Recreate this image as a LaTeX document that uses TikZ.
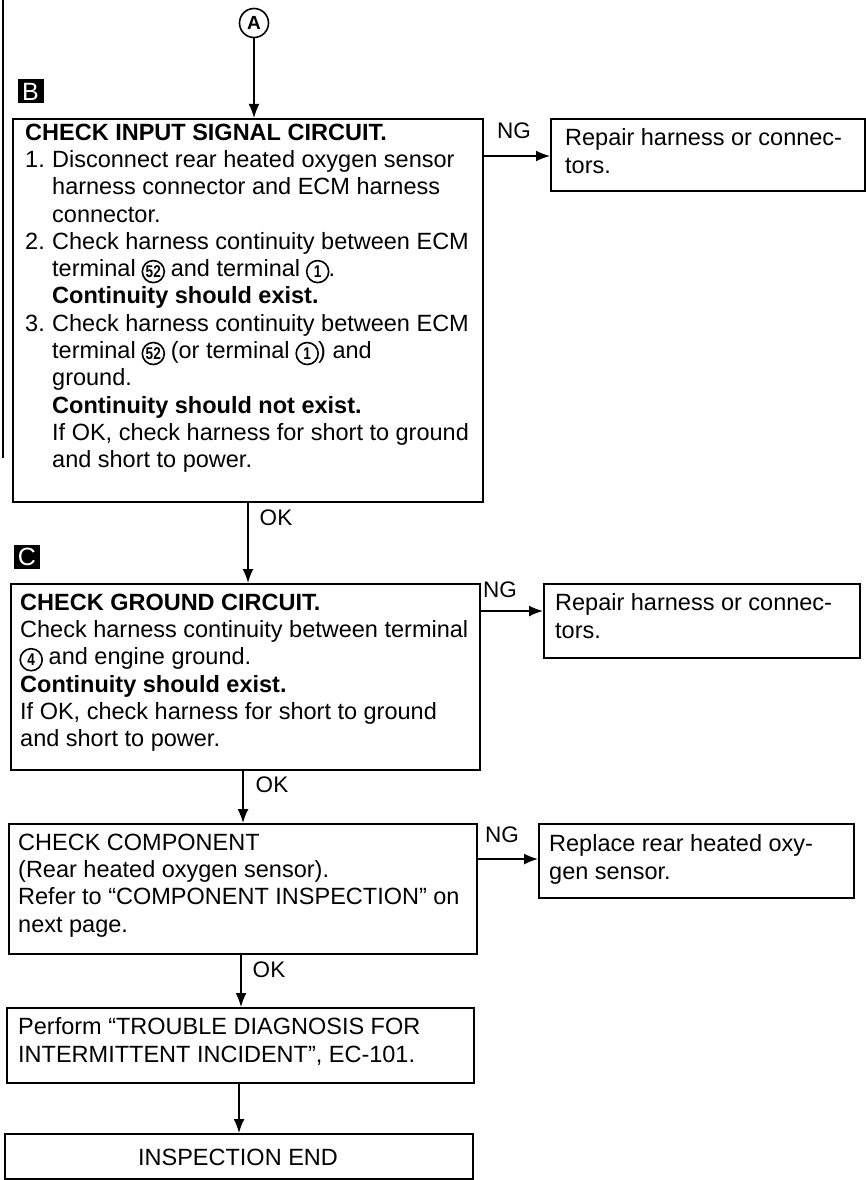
\documentclass[tikz,border=0pt]{standalone}
\usepackage{fontspec}
\usepackage{pict2e}
\setmainfont{Liberation Sans}
\usetikzlibrary{arrows.meta,calc}
\setlength{\unitlength}{1pt}
\newcommand\cdig[1]{\begin{picture}(22,16)(0,6)\linethickness{1.6pt}\put(11,11){\circle{22}}\put(11,11){\makebox(0,0){\fontsize{17}{17}\selectfont\bfseries\scalebox{0.8}[1]{#1}}}\end{picture}}
\newcommand\cfii{\cdig{52}}
\newcommand\ind{\hspace*{27pt}}
\newcommand\num[1]{\makebox[27pt][l]{#1}}
\tikzset{
 box/.style={draw,line width=1.6pt,inner sep=0pt,anchor=north west},
 txt/.style={anchor=north west,inner sep=0pt,align=left,font=\fontsize{23.5}{27.3}\selectfont},
 lab/.style={inner sep=0pt,font=\fontsize{22.5}{22.5}\selectfont},
 arr/.style={line width=1.6pt,-{Latex[length=14pt,width=11pt]}},
 marker/.style={fill=black,text=white,inner sep=0pt,minimum width=26pt,minimum height=24pt,font=\fontsize{25}{25}\selectfont},
 conn/.style={draw,circle,line width=1.6pt,minimum size=29pt,inner sep=0pt,font=\fontsize{19}{19}\selectfont\bfseries}
}
\begin{document}
\begin{tikzpicture}[x=1pt,y=-1pt]
\useasboundingbox (0,0) rectangle (866,1180);
\fill[white] (0,0) rectangle (866,1180);
% scan edge line
\draw[line width=1.5pt] (3,0) -- (3,458);
% connector A
\node[conn] (A) at (254,23) {A};
% markers
\node[marker] (mB) at (30.5,91.5) {B};
\node[marker] (mC) at (27,556.5) {C};
% boxes
\node[box,minimum width=470pt,minimum height=383pt] (b1) at (12,118) {};
\node[box,minimum width=314pt,minimum height=72pt] (n1) at (550,118) {};
\node[box,minimum width=469pt,minimum height=186pt] (b2) at (10,583) {};
\node[box,minimum width=316pt,minimum height=74pt] (n2) at (543,583) {};
\node[box,minimum width=468pt,minimum height=130pt] (b3) at (8,823) {};
\node[box,minimum width=315pt,minimum height=74pt] (n3) at (538,823) {};
\node[box,minimum width=467pt,minimum height=75pt] (b4) at (6,1007) {};
\node[box,minimum width=468pt,minimum height=45pt] (b5) at (4,1133) {};
% texts
\node[txt] (t1) at (25,123.5) {\textbf{CHECK INPUT SIGNAL CIRCUIT.}\\
\num{1.}Disconnect rear heated oxygen sensor\\
\ind harness connector and ECM harness\\
\ind connector.\\
\num{2.}Check harness continuity between ECM\\
\ind terminal \cfii{} and terminal \cdig{1}.\\
\ind\textbf{Continuity should exist.}\\
\num{3.}Check harness continuity between ECM\\
\ind terminal \cfii{} (or terminal \cdig{1}) and\\
\ind ground.\\
\ind\textbf{Continuity should not exist.}\\
\ind If OK, check harness for short to ground\\
\ind and short to power.};
\node[txt] (tn1) at (565,128.5) {Repair harness or connec-\\tors.};
\node[txt] (t2) at (20,593.5) {\textbf{CHECK GROUND CIRCUIT.}\\
Check harness continuity between terminal\\
\cdig{4} and engine ground.\\
\textbf{Continuity should exist.}\\
If OK, check harness for short to ground\\
and short to power.};
\node[txt] (tn2) at (555,593.5) {Repair harness or connec-\\tors.};
\node[txt] (t3) at (18,833.5) {CHECK COMPONENT\\
(Rear heated oxygen sensor).\\
Refer to “COMPONENT INSPECTION” on\\
next page.};
\node[txt] (tn3) at (549,834.5) {Replace rear heated oxy-\\gen sensor.};
\node[txt] (t4) at (18,1017.5) {Perform “TROUBLE DIAGNOSIS FOR\\
INTERMITTENT INCIDENT”, EC-101.};
\node[inner sep=0pt,font=\fontsize{23.5}{27.3}\selectfont] (t5) at (238,1157) {INSPECTION END};
% connector coordinates
\coordinate (ng1) at (0,156);
\coordinate (ng2) at (0,611);
\coordinate (ng3) at (0,859);
\coordinate (ok1) at (248,0);
\coordinate (ok2) at (243,0);
\coordinate (ok3) at (241,0);
\coordinate (ok4) at (239,0);
% arrows
\draw[arr] (A.south) -- (A.south |- b1.north);
\draw[arr] (b1.east |- ng1) -- (n1.west |- ng1);
\draw[arr] (b2.east |- ng2) -- (n2.west |- ng2);
\draw[arr] (b3.east |- ng3) -- (n3.west |- ng3);
\draw[arr] (b1.south -| ok1) -- (b2.north -| ok1);
\draw[arr] (b2.south -| ok2) -- (b3.north -| ok2);
\draw[arr] (b3.south -| ok3) -- (b4.north -| ok3);
\draw[arr] (b4.south -| ok4) -- (b5.north -| ok4);
% labels
\node[lab] (lng1) at (514,131) {NG};
\node[lab] (lng2) at (500,590) {NG};
\node[lab] (lng3) at (502,835) {NG};
\node[lab] (lok1) at (276,518) {OK};
\node[lab] (lok2) at (272,785) {OK};
\node[lab] (lok3) at (269,970) {OK};
\end{tikzpicture}
\end{document}
